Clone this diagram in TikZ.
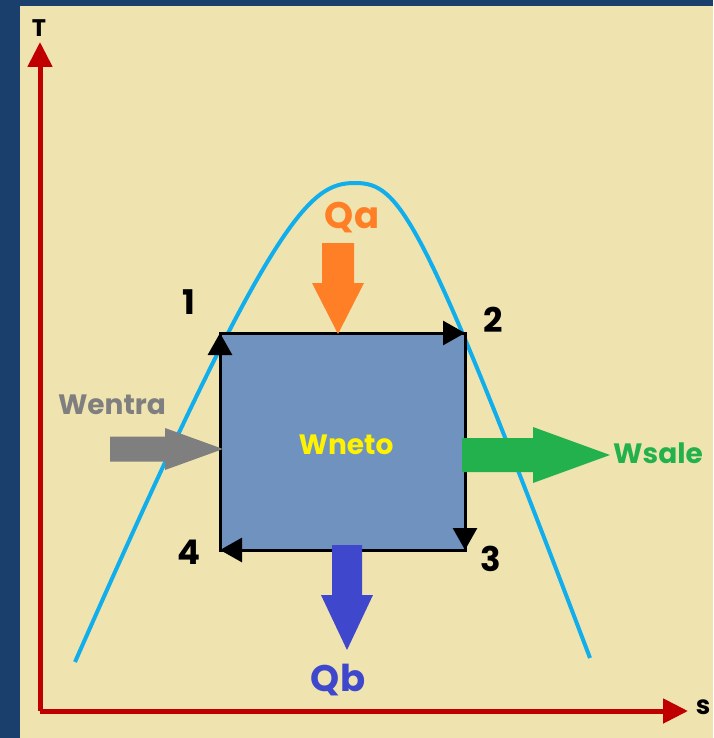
\documentclass[tikz,border=0pt]{standalone}
\usepackage{fontspec}
\setmainfont{Poppins}
\usepackage{tikz}
\usetikzlibrary{arrows.meta}
\usetikzlibrary{positioning}

\definecolor{frameblue}{HTML}{1A3F6C}
\definecolor{paper}{HTML}{EFE4B0}
\definecolor{axisred}{HTML}{C00000}
\definecolor{domecyan}{HTML}{12AEEC}
\definecolor{cyclefill}{HTML}{7092BE}
\definecolor{heatin}{HTML}{FF7F27}
\definecolor{heatout}{HTML}{3F48CC}
\definecolor{workin}{HTML}{7F7F7F}
\definecolor{workout}{HTML}{22B14C}
\definecolor{worknet}{HTML}{FFF200}

% block arrows: colour, tip, half shaft, half head, head length, shaft length
\newcommand{\blockdown}[6]{%
  \fill[#1] (#2) -- ++(#4,-#5) -- ++(-#4+#3,0) -- ++(0,-#6) -- ++(-2*#3,0)
    -- ++(0,#6) -- ++(-#4+#3,0) -- cycle;}
\newcommand{\blockright}[6]{%
  \fill[#1] (#2) -- ++(-#5,#4) -- ++(0,-#4+#3) -- ++(-#6,0) -- ++(0,-2*#3)
    -- ++(#6,0) -- ++(0,-#4+#3) -- cycle;}

\begin{document}
\begin{tikzpicture}[x=1pt, y=-1pt,
        axis/.style={draw=axisred, line width=5pt, -{Triangle[length=25pt,width=24pt]}},
        leg/.style={draw=black, line width=3pt, -{Triangle[length=22pt,width=24pt]}},
        dome/.style={draw=domecyan, line width=4pt},
        lbl/.style={inner sep=0pt, font=\bfseries\fontsize{28}{30}\selectfont},
        big/.style={inner sep=0pt, font=\bfseries\fontsize{37}{38}\selectfont},
        num/.style={inner sep=0pt, font=\bfseries\fontsize{34}{36}\selectfont}
      ]
        \fill[frameblue] (0,0) rectangle (713,738);
        \fill[paper] (20,6) rectangle (713,738);

        % axes
        \coordinate (origin) at (40,711);
        \coordinate (ytip) at (40,42);
        \coordinate (xtip) at (688,711);
        \draw[axis] (origin) -- (ytip);
        \draw[axis] (origin) -- (xtip);
        \node[lbl, font=\bfseries\fontsize{24}{26}\selectfont] (T) at (39,28) {T};
        \node[lbl, font=\bfseries\fontsize{26}{28}\selectfont] (s) at (703,707) {s};

        % cycle corners
        \coordinate (c1) at (220,333);
        \coordinate (c2) at (465,333);
        \coordinate (c3) at (465,550);
        \coordinate (c4) at (220,550);

        % saturation dome
        \coordinate (dleft) at (75,662);
        \coordinate (peak) at (355,183);
        \coordinate (dright) at (590,658);
        \draw[dome] (dleft) .. controls (273,212) and (310,183) .. (peak)
            .. controls (400,183) and (421,212) .. (dright);

        \fill[cyclefill] (c1) rectangle (c3);
        \draw[line width=3pt] (c1) rectangle (c3);
        \draw[leg] (c1) -- (c2);
        \draw[leg] (c2) -- (c3);
        \draw[leg] (c3) -- (c4);
        \draw[leg] (c4) -- (c1);

        \node[num] (n1) at (189,302) {1};
        \node[num] (n2) at (493,320) {2};
        \node[num] (n3) at (491,559) {3};
        \node[num] (n4) at (189,552) {4};

        % heat and work
        \coordinate (qatip) at (338,334);
        \coordinate (qbtip) at (347,650);
        \coordinate (wintip) at (223,449);
        \coordinate (wouttip) at (610,455);
        \blockdown{heatin}{qatip}{16}{26}{51}{40}
        \blockdown{heatout}{qbtip}{15}{26}{55}{50}
        \blockright{workin}{wintip}{12.5}{21}{58}{55}
        \blockright{workout}{wouttip}{17}{28}{77}{71}

        \node[big, text=heatin] (qa) at (352,218) {Qa};
        \node[big, text=heatout] (qb) at (338,680) {Qb};
        \node[lbl, text=workin] (wentra) at (112,405) {Wentra};
        \node[lbl, text=workout] (wsale) at (658,453) {Wsale};
        \node[lbl, text=worknet] (wneto) at (346,445) {Wneto};
      \end{tikzpicture}
\end{document}
